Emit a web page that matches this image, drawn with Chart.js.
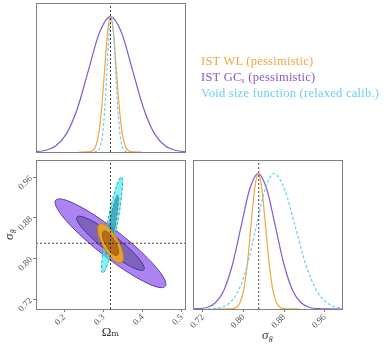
<!DOCTYPE html>
<html><head><meta charset="utf-8">
<script src="https://cdn.jsdelivr.net/npm/chart.js@4.4.1/dist/chart.umd.min.js"></script>
<style>
html,body{margin:0;padding:0;background:#fff;}
#wrap{position:relative;width:390px;height:346px;overflow:hidden;background:#fff;}
canvas{position:absolute;left:0;top:0;}
#legend{position:absolute;left:201px;top:53px;font-family:'Liberation Serif',serif;font-size:12.5px;letter-spacing:0.25px;line-height:16px;white-space:nowrap;}
#legend sub{font-size:8px;vertical-align:-2px;line-height:0;}
</style></head><body>
<div id="wrap">
<canvas id="cTL" width="390" height="346"></canvas>
<canvas id="cBL" width="390" height="346"></canvas>
<canvas id="cBR" width="390" height="346"></canvas>
<div id="legend"></div>
</div>
<script>
// ---------- axes / ticks ----------
const omRange = [0.128, 0.508];
const s8Range = [0.7005, 0.994];
const pdfRange = [0, 1.1];
const omTicks = [0.2, 0.3, 0.4, 0.5];
const omTickLabels = ['0.2', '0.3', '0.4', '0.5'];
const s8Ticks = [0.72, 0.80, 0.88, 0.96];
const s8TickLabels = ['0.72', '0.80', '0.88', '0.96'];
const fidOm = 0.318;
const fidS8 = 0.830;

// ---------- legend ----------
const legendLabels = ['IST WL', 'IST GC', 'Void size function'];
const legendSubs = ['', 's', ''];
const legendNotes = ['(pessimistic)', '(pessimistic)', '(relaxed calib.)'];

// ---------- 1D marginal of Omega_m ----------
const wlOmX = [0.238, 0.258, 0.2655, 0.273, 0.2805, 0.288, 0.2955, 0.303, 0.3105, 0.318, 0.3255, 0.333, 0.3405, 0.348, 0.3555, 0.363, 0.3705, 0.378, 0.398];
const wlOmY = [0, 0.0003, 0.0022, 0.0111, 0.0439, 0.1353, 0.3247, 0.6065, 0.8825, 1, 0.8825, 0.6065, 0.3247, 0.1353, 0.0439, 0.0111, 0.0022, 0.0003, 0];
const gcOmX = [0.094, 0.122, 0.150, 0.178, 0.206, 0.234, 0.262, 0.290, 0.318, 0.346, 0.374, 0.402, 0.430, 0.458, 0.486, 0.514, 0.542];
const gcOmY = [0.0003, 0.0022, 0.0111, 0.0439, 0.1353, 0.3247, 0.6065, 0.8825, 1, 0.8825, 0.6065, 0.3247, 0.1353, 0.0439, 0.0111, 0.0022, 0.0003];
const vsfOmX = [0.276, 0.2815, 0.287, 0.2925, 0.298, 0.3035, 0.309, 0.3145, 0.320, 0.3255, 0.331, 0.3365, 0.342, 0.3475, 0.353, 0.3585, 0.364];
const vsfOmY = [0.0003, 0.0022, 0.0111, 0.0439, 0.1353, 0.3247, 0.6065, 0.8825, 1, 0.8825, 0.6065, 0.3247, 0.1353, 0.0439, 0.0111, 0.0022, 0.0003];

// ---------- 1D marginal of sigma_8 ----------
const wlS8X = [0.745, 0.771, 0.7783, 0.7855, 0.7928, 0.800, 0.8073, 0.8145, 0.8218, 0.829, 0.8363, 0.8435, 0.8508, 0.858, 0.8653, 0.8725, 0.8798, 0.887, 0.912];
const wlS8Y = [0, 0.0003, 0.0022, 0.0111, 0.0439, 0.1353, 0.3247, 0.6065, 0.8825, 1, 0.8825, 0.6065, 0.3247, 0.1353, 0.0439, 0.0111, 0.0022, 0.0003, 0];
const gcS8X = [0.693, 0.710, 0.727, 0.744, 0.761, 0.778, 0.795, 0.812, 0.829, 0.846, 0.863, 0.880, 0.897, 0.914, 0.931, 0.948, 0.965, 1.0];
const gcS8Y = [0.0003, 0.0022, 0.0111, 0.0439, 0.1353, 0.3247, 0.6065, 0.8825, 1, 0.8825, 0.6065, 0.3247, 0.1353, 0.0439, 0.0111, 0.0022, 0.0003, 0];
const vsfS8X = [0.720, 0.7375, 0.755, 0.7725, 0.790, 0.8075, 0.825, 0.8425, 0.860, 0.881, 0.902, 0.923, 0.944, 0.965, 0.986, 1.007, 1.028];
const vsfS8Y = [0.0003, 0.0022, 0.0111, 0.0439, 0.1353, 0.3247, 0.6065, 0.8825, 1, 0.8825, 0.6065, 0.3247, 0.1353, 0.0439, 0.0111, 0.0022, 0.0003];

// ---------- 2D contours (Omega_m, sigma_8), 68% and 95% ----------
const gcOuterOm = [0.3392,0.3023,0.2665,0.2342,0.2076,0.1885,0.1783,0.1775,0.1864,0.2042,0.2297,0.2613,0.2968,0.3337,0.3695,0.4018,0.4284,0.4475,0.4577,0.4585,0.4496,0.4318,0.4063,0.3747,0.3392];
const gcOuterS8 = [0.8509,0.8722,0.8906,0.9048,0.9140,0.9174,0.9149,0.9066,0.8930,0.8752,0.8544,0.8318,0.8091,0.7878,0.7694,0.7552,0.7460,0.7426,0.7451,0.7534,0.7670,0.7848,0.8056,0.8282,0.8509];
const gcInnerOm = [0.3309,0.3084,0.2866,0.2669,0.2507,0.2390,0.2328,0.2323,0.2377,0.2486,0.2641,0.2834,0.3051,0.3276,0.3494,0.3691,0.3853,0.3970,0.4032,0.4037,0.3983,0.3874,0.3719,0.3526,0.3309];
const gcInnerS8 = [0.8427,0.8557,0.8670,0.8756,0.8812,0.8833,0.8818,0.8767,0.8684,0.8576,0.8449,0.8311,0.8173,0.8043,0.7930,0.7844,0.7788,0.7767,0.7782,0.7833,0.7916,0.8024,0.8151,0.8289,0.8427];
const wlOuterOm = [0.3357,0.3278,0.3193,0.3107,0.3027,0.2956,0.2900,0.2864,0.2849,0.2857,0.2887,0.2936,0.3003,0.3082,0.3167,0.3253,0.3333,0.3404,0.3460,0.3496,0.3511,0.3503,0.3473,0.3424,0.3357];
const wlOuterS8 = [0.8378,0.8473,0.8558,0.8624,0.8668,0.8687,0.8680,0.8647,0.8590,0.8514,0.8422,0.8323,0.8222,0.8127,0.8042,0.7976,0.7932,0.7913,0.7920,0.7953,0.8010,0.8086,0.8178,0.8277,0.8378];
const wlInnerOm = [0.3290,0.3241,0.3188,0.3135,0.3085,0.3041,0.3006,0.2984,0.2975,0.2980,0.2998,0.3029,0.3070,0.3119,0.3172,0.3225,0.3275,0.3319,0.3354,0.3376,0.3385,0.3380,0.3362,0.3331,0.3290];
const wlInnerS8 = [0.8348,0.8407,0.8460,0.8501,0.8528,0.8540,0.8536,0.8515,0.8480,0.8433,0.8376,0.8314,0.8252,0.8193,0.8140,0.8099,0.8072,0.8060,0.8064,0.8085,0.8120,0.8167,0.8224,0.8286,0.8348];
const vsfOuterOm = [0.3345,0.3280,0.3210,0.3142,0.3079,0.3025,0.2985,0.2961,0.2953,0.2966,0.2994,0.3038,0.3095,0.3160,0.3230,0.3298,0.3361,0.3415,0.3455,0.3479,0.3487,0.3474,0.3446,0.3402,0.3345];
const vsfOuterS8 = [0.8641,0.8397,0.8170,0.7977,0.7830,0.7740,0.7713,0.7750,0.7850,0.8003,0.8202,0.8433,0.8679,0.8923,0.9150,0.9343,0.9490,0.9580,0.9607,0.9570,0.9470,0.9317,0.9118,0.8887,0.8641];
const vsfInnerOm = [0.3298,0.3257,0.3214,0.3172,0.3133,0.3099,0.3074,0.3059,0.3054,0.3063,0.3080,0.3107,0.3142,0.3183,0.3226,0.3268,0.3307,0.3341,0.3366,0.3381,0.3386,0.3377,0.3360,0.3333,0.3298];
const vsfInnerS8 = [0.8648,0.8497,0.8356,0.8237,0.8145,0.8090,0.8073,0.8096,0.8158,0.8253,0.8376,0.8519,0.8672,0.8823,0.8964,0.9083,0.9175,0.9230,0.9247,0.9224,0.9162,0.9067,0.8944,0.8801,0.8648];

// ---------- styles ----------
const colWL = '#F5A341', colGC = '#8559D0', colVSF = '#6ACDF5';
const serif = "'Liberation Serif', 'DejaVu Serif', serif";
const tickFont = {family: serif, size: 9};
const tickColor = '#555';
const frameColor = '#808080';

// legend
const leg = document.getElementById('legend');
[colWL, colGC, colVSF].forEach((c, i) => {
  const d = document.createElement('div');
  d.style.color = c;
  d.appendChild(document.createTextNode(legendLabels[i]));
  if (legendSubs[i]) { const s = document.createElement('sub'); s.textContent = legendSubs[i]; d.appendChild(s); }
  d.appendChild(document.createTextNode(' ' + legendNotes[i]));
  leg.appendChild(d);
});

const pts = (xs, ys) => xs.map((x, i) => ({x: x, y: ys[i]}));

const framePlugin = {
  id: 'frame',
  afterDraw(chart) {
    const a = chart.chartArea, ctx = chart.ctx;
    const L = Math.round(a.left), T = Math.round(a.top), R = Math.round(a.right), B = Math.round(a.bottom);
    ctx.save();
    ctx.strokeStyle = frameColor;
    ctx.lineWidth = 1;
    ctx.strokeRect(L + 0.5, T + 0.5, R - L, B - T);
    ctx.restore();
  }
};

function curve(xs, ys, color, dash) {
  return {data: pts(xs, ys), showLine: true, pointRadius: 0, borderColor: color, borderWidth: 1.2,
          borderDash: dash || [], fill: false, cubicInterpolationMode: 'monotone'};
}
function contour(xs, ys, fillCol, lineCol, dash) {
  return {data: pts(xs, ys), showLine: true, pointRadius: 0, borderColor: lineCol, borderWidth: 1,
          borderDash: dash || [], backgroundColor: fillCol, fill: 'shape', tension: 0.4};
}
function fidLine(p) {
  return {data: p, showLine: true, pointRadius: 0, borderColor: 'rgba(20,20,20,0.8)', borderWidth: 1,
          borderDash: [2, 2], fill: false, tension: 0};
}

const baseOpts = (padding, scales) => ({
  responsive: false, animation: false, devicePixelRatio: 1,
  layout: {padding: padding},
  plugins: {legend: {display: false}, tooltip: {enabled: false}},
  scales: scales
});

function tickAxis(range, ticks, labels, extra) {
  return Object.assign({
    type: 'linear', min: range[0], max: range[1],
    afterBuildTicks: s => { s.ticks = ticks.map(v => ({value: v})); },
    ticks: {autoSkip: false, minRotation: 45, maxRotation: 45, padding: 0, font: tickFont, color: tickColor,
            callback: (v, i) => labels[i]},
    grid: {display: true, drawOnChartArea: false, drawTicks: true, tickLength: 3, color: frameColor, lineWidth: 1},
    border: {display: false}
  }, extra);
}

// ---------- top-left: P(Omega_m) ----------
new Chart(document.getElementById('cTL'), {
  type: 'scatter',
  data: {datasets: [
    fidLine([{x: fidOm, y: pdfRange[0]}, {x: fidOm, y: pdfRange[1]}]),
    curve(vsfOmX, vsfOmY, colVSF, [3, 2]),
    curve(wlOmX, wlOmY, colWL),
    curve(gcOmX, gcOmY, colGC)
  ]},
  options: baseOpts({left: 36, top: 3, right: 205, bottom: 194}, {
    x: {type: 'linear', min: omRange[0], max: omRange[1], display: false},
    y: {type: 'linear', min: pdfRange[0], max: pdfRange[1], display: false}
  }),
  plugins: [framePlugin]
});

// ---------- bottom-left: 2D contours ----------
new Chart(document.getElementById('cBL'), {
  type: 'scatter',
  data: {datasets: [
    fidLine([{x: fidOm, y: s8Range[0]}, {x: fidOm, y: s8Range[1]}]),
    fidLine([{x: omRange[0], y: fidS8}, {x: omRange[1], y: fidS8}]),
    contour(wlInnerOm, wlInnerS8, 'rgba(170,90,20,0.75)', '#9a5a10'),
    contour(wlOuterOm, wlOuterS8, 'rgba(240,170,30,0.9)', '#c07d10'),
    contour(vsfInnerOm, vsfInnerS8, 'rgba(30,110,150,0.55)', '#1f8ea0', [3, 2]),
    contour(vsfOuterOm, vsfOuterS8, 'rgba(60,235,240,0.65)', '#2aa8b8', [3, 2]),
    contour(gcInnerOm, gcInnerS8, 'rgba(70,60,120,0.45)', '#4b3090'),
    contour(gcOuterOm, gcOuterS8, 'rgba(150,100,240,0.8)', '#5a3aa0')
  ]},
  options: baseOpts({left: 0, top: 160, right: 205, bottom: 0}, {
    x: tickAxis(omRange, omTicks, omTickLabels, {position: 'bottom',
      afterFit: s => { s.height = 37; },
      title: {display: true, text: 'Ωₘ', color: '#333', font: {family: serif, size: 13}, padding: {top: 0, bottom: 6}}}),
    y: tickAxis(s8Range, s8Ticks, s8TickLabels, {position: 'left',
      afterFit: s => { s.width = 36; },
      ticks: {autoSkip: false, minRotation: 45, maxRotation: 45, padding: 2, font: tickFont, color: tickColor,
              callback: (v, i) => s8TickLabels[i]},
      title: {display: true, text: 'σ₈', color: '#333', font: {family: serif, size: 13, style: 'italic'}, padding: {top: 2, bottom: 0}}})
  }),
  plugins: [framePlugin]
});

// ---------- bottom-right: P(sigma_8) ----------
new Chart(document.getElementById('cBR'), {
  type: 'scatter',
  data: {datasets: [
    fidLine([{x: fidS8, y: pdfRange[0]}, {x: fidS8, y: pdfRange[1]}]),
    curve(vsfS8X, vsfS8Y, colVSF, [3, 2]),
    curve(wlS8X, wlS8Y, colWL),
    curve(gcS8X, gcS8Y, colGC)
  ]},
  options: baseOpts({left: 193, top: 160, right: 48, bottom: 0}, {
    x: tickAxis(s8Range, s8Ticks, s8TickLabels, {position: 'bottom',
      afterFit: s => { s.height = 37; },
      title: {display: true, text: 'σ₈', color: '#333', font: {family: serif, size: 13, style: 'italic'}, padding: {top: 0, bottom: 3}}}),
    y: {type: 'linear', min: pdfRange[0], max: pdfRange[1], display: false}
  }),
  plugins: [framePlugin]
});
</script>
</body></html>
